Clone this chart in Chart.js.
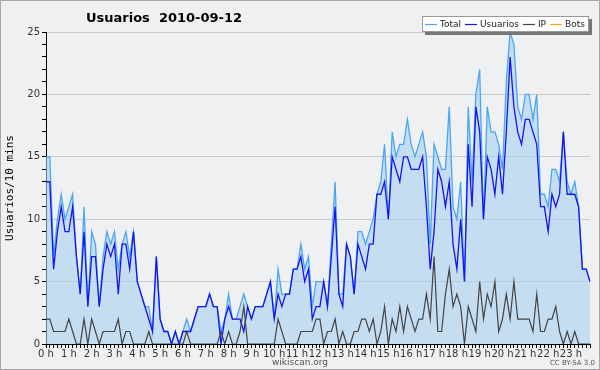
<!DOCTYPE html>
<html lang="es">
<head>
  <meta charset="UTF-8" />
  <title>Usuarios 2010-09-12</title>
  <script src="https://cdn.jsdelivr.net/npm/chart.js"></script>
  <style>
    html, body { margin: 0; padding: 0; background: #eff0f1; }
    canvas { display: block; }
  </style>
</head>
<body>
  <canvas id="chart" width="600" height="370"></canvas>

  <script>
    // hour labels on the x axis, one point every 10 minutes
    const hourLabels = ['0 h', '1 h', '2 h', '3 h', '4 h', '5 h', '6 h', '7 h', '8 h', '9 h', '10 h', '11 h',
      '12 h', '13 h', '14 h', '15 h', '16 h', '17 h', '18 h', '19 h', '20 h', '21 h', '22 h', '23 h'];

    const total = [
      15, 15, 7, 10, 12, 10, 11, 12, 7, 4, 11, 3, 9, 8, 3, 7, 9, 8, 9, 6, 8, 9, 7, 9,
      5, 4, 3, 3, 1, 7, 2, 1, 1, 0, 1, 0, 1, 2, 1, 2, 3, 3, 3, 4, 3, 3, 1, 2,
      4, 2, 2, 3, 4, 3, 2, 3, 3, 3, 4, 5, 2, 6, 4, 4, 4, 6, 6, 8, 6, 7, 3, 5,
      5, 5, 3, 8, 13, 4, 4, 8, 7, 4, 9, 9, 8, 9, 10, 12, 13, 16, 10, 17, 15, 16, 16, 18,
      16, 15, 16, 17, 15, 8, 16, 15, 14, 14, 19, 11, 10, 13, 5, 19, 13, 20, 22, 10, 19, 17, 17, 16,
      14, 21, 25, 24, 19, 18, 20, 20, 18, 20, 12, 12, 11, 14, 14, 13, 17, 13, 12, 13, 11, 6, 6, 5
    ];

    const usuarios = [
      13, 13, 6, 9, 11, 9, 9, 11, 7, 4, 9, 3, 7, 7, 3, 6, 8, 7, 8, 4, 8, 8, 6, 9,
      5, 4, 3, 2, 1, 7, 2, 1, 1, 0, 1, 0, 1, 1, 1, 2, 3, 3, 3, 4, 3, 3, 0, 2,
      3, 2, 2, 2, 1, 3, 2, 3, 3, 3, 4, 5, 2, 4, 3, 4, 4, 6, 6, 7, 5, 6, 2, 3,
      3, 5, 3, 7, 11, 4, 3, 8, 7, 4, 8, 7, 6, 8, 8, 12, 12, 13, 10, 15, 14, 13, 15, 15,
      14, 14, 14, 15, 11, 6, 9, 14, 13, 11, 13, 8, 6, 10, 5, 16, 11, 19, 17, 10, 15, 14, 12, 15,
      12, 17, 23, 19, 17, 16, 18, 18, 17, 16, 11, 11, 9, 12, 11, 12, 17, 12, 12, 12, 11, 6, 6, 5
    ];

    const ip = [
      2, 2, 1, 1, 1, 1, 2, 1, 0, 0, 2, 0, 2, 1, 0, 1, 1, 1, 1, 2, 0, 1, 1, 0,
      0, 0, 0, 1, 0, 0, 0, 0, 0, 0, 0, 0, 0, 1, 0, 0, 0, 0, 0, 0, 0, 0, 1, 0,
      1, 0, 0, 1, 3, 0, 0, 0, 0, 0, 0, 0, 0, 2, 1, 0, 0, 0, 0, 1, 1, 1, 1, 2,
      2, 0, 1, 1, 2, 0, 1, 0, 0, 1, 1, 2, 2, 1, 2, 0, 1, 3, 0, 2, 1, 3, 1, 3,
      2, 1, 2, 2, 4, 2, 7, 1, 1, 4, 6, 3, 4, 3, 0, 3, 2, 1, 5, 2, 4, 3, 5, 1,
      2, 4, 2, 5, 2, 2, 2, 2, 1, 4, 1, 1, 2, 2, 3, 1, 0, 1, 0, 1, 0, 0, 0, 0
    ];

    // no bot edits that day
    const bots = [];

    const colors = { total: '#4aa6f4', usuarios: '#1414f0', ip: '#444444', bots: '#ffa020' };

    // one slot per 10 minutes, hour name on the first slot
    const slots = hourLabels.flatMap(h => [h, '', '', '', '', '']);

    const FONT = '"DejaVu Sans", Verdana, sans-serif';

    const decor = {
      id: 'decor',
      beforeDraw(chart) {
        const c = chart.ctx;
        c.save();
        c.fillStyle = '#eff0f1';
        c.fillRect(0, 0, chart.width, chart.height);
        c.restore();
      },
      afterDraw(chart) {
        const c = chart.ctx;
        c.save();
        // outer frame
        c.strokeStyle = '#a8a8a8';
        c.lineWidth = 1;
        c.strokeRect(0.5, 0.5, chart.width - 1, chart.height - 1);

        // title
        c.fillStyle = '#000';
        c.font = 'bold 13px ' + FONT;
        c.textBaseline = 'alphabetic';
        c.fillText('Usuarios  2010-09-12', 86, 22);

        // legend box
        const items = [
          ['Total', colors.total], ['Usuarios', colors.usuarios], ['IP', colors.ip], ['Bots', colors.bots]
        ];
        c.font = '9px ' + FONT;
        c.fillStyle = '#777';
        c.fillRect(425, 19, 167, 16);
        c.fillStyle = '#fff';
        c.fillRect(422, 16, 167, 16);
        c.strokeStyle = '#999';
        c.strokeRect(422.5, 16.5, 166, 15);
        let x = 425;
        c.textBaseline = 'middle';
        items.forEach(([name, col]) => {
          c.strokeStyle = col;
          c.lineWidth = 1.2;
          c.beginPath();
          c.moveTo(x, 24.5);
          c.lineTo(x + 12, 24.5);
          c.stroke();
          c.fillStyle = '#222';
          c.fillText(name, x + 15, 25);
          x += 15 + c.measureText(name).width + 4;
        });

        // footer
        c.textBaseline = 'alphabetic';
        c.fillStyle = '#555';
        c.font = '9px ' + FONT;
        c.textAlign = 'center';
        c.fillText('wikiscan.org', 300, 365);
        c.font = '7px ' + FONT;
        c.textAlign = 'right';
        c.fillText('CC BY-SA 3.0', 595, 365);
        c.restore();
      }
    };

    new Chart(document.getElementById('chart'), {
      type: 'line',
      data: {
        labels: slots,
        datasets: [
          {
            label: 'Total', data: total, order: 4,
            borderColor: colors.total, backgroundColor: 'rgba(169, 208, 241, 0.6)',
            fill: 'origin', borderWidth: 1.3
          },
          {
            label: 'Usuarios', data: usuarios, order: 3,
            borderColor: colors.usuarios, fill: false, borderWidth: 1.3
          },
          {
            label: 'IP', data: ip, order: 2,
            borderColor: colors.ip, fill: false, borderWidth: 1.2
          },
          {
            label: 'Bots', data: bots, order: 1,
            borderColor: colors.bots, fill: false, borderWidth: 1.2
          }
        ]
      },
      options: {
        responsive: false,
        animation: false,
        layout: { padding: { top: 32, right: 10, left: 0, bottom: 0 } },
        elements: { point: { radius: 0 }, line: { tension: 0 } },
        plugins: {
          legend: { display: false },
          title: { display: false },
          tooltip: { enabled: false }
        },
        scales: {
          x: {
            offset: false,
            afterFit: s => { s.height = 26; },
            border: { color: '#000', width: 1 },
            grid: { drawOnChartArea: false, tickLength: 4, tickColor: '#000' },
            ticks: {
              autoSkip: false, maxRotation: 0, padding: 0,
              color: '#333', font: { family: FONT, size: 10 },
              callback: (v, i) => slots[i]
            }
          },
          y: {
            min: 0, max: 25,
            afterFit: s => { s.width = 46; },
            border: { color: '#000', width: 1 },
            grid: {
              tickLength: 4, tickColor: '#000',
              color: ctx => (ctx.tick && ctx.tick.value > 0 && ctx.tick.value % 5 === 0) ? '#c8c8c8' : 'rgba(0,0,0,0)'
            },
            ticks: {
              stepSize: 1, autoSkip: false, padding: 2,
              color: '#333', font: { family: FONT, size: 10 },
              callback: v => (v % 5 === 0 ? v : '')
            },
            title: {
              display: true, text: 'Usuarios/10 mins', color: '#000',
              font: { family: '"DejaVu Sans Mono", monospace', size: 11 }
            }
          }
        }
      },
      plugins: [decor]
    });
  </script>
</body>
</html>
